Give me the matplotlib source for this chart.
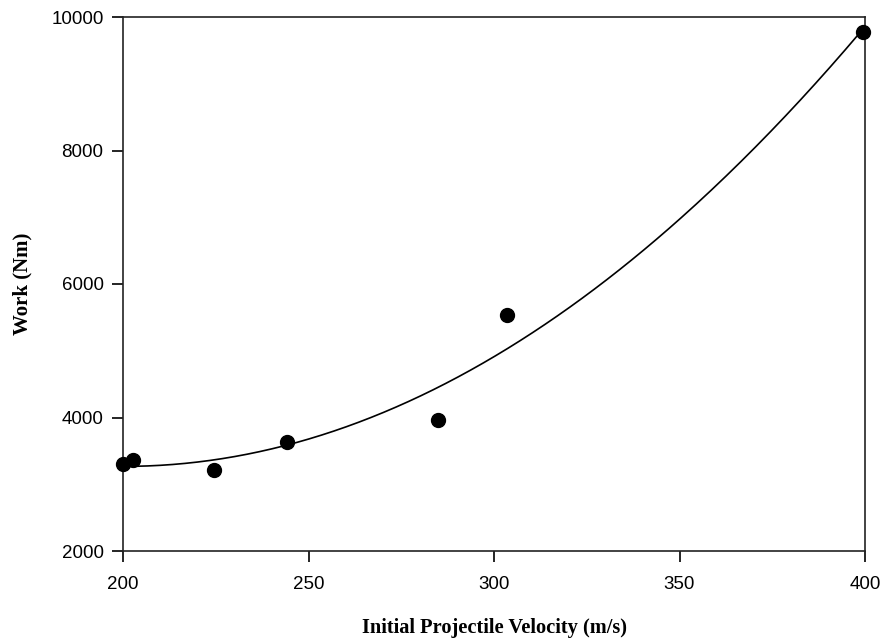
import numpy as np
import matplotlib.pyplot as plt

# initial velocity (m/s) and work (Nm)
velocity = [200.0, 202.7, 224.5, 244.2, 284.9, 303.5, 399.5]
work = [3310, 3360, 3210, 3640, 3965, 5530, 9775]

x_ticks = [200, 250, 300, 350, 400]
y_ticks = [2000, 4000, 6000, 8000, 10000]

# second order regression through the points
coef = np.polyfit(velocity, work, 2)
xs = np.linspace(200, 400, 300)
ys = np.polyval(coef, xs)

fig = plt.figure(figsize=(8.84, 6.39), dpi=100)
ax = fig.add_axes([123 / 884, 1 - 551 / 639, (865 - 123) / 884, (551 - 17) / 639])

ax.plot(xs, ys, color='black', linewidth=1.2, zorder=2)
ax.plot(velocity, work, 'o', color='black', markersize=10, zorder=3, clip_on=False)

ax.set_xlim(200, 400)
ax.set_ylim(2000, 10000)
ax.set_xticks(x_ticks)
ax.set_yticks(y_ticks)
ax.tick_params(direction='out', length=8, width=1.2, labelsize=13.5, colors='black')
ax.tick_params(axis='x', pad=10)
ax.tick_params(axis='y', pad=6)
for lab in ax.get_xticklabels() + ax.get_yticklabels():
    lab.set_family('Liberation Sans')
for sp in ax.spines.values():
    sp.set_linewidth(1.2)
    sp.set_color('#222222')

ax.set_xlabel('Initial Projectile Velocity (m/s)', family='Liberation Serif',
              fontweight='bold', fontsize=14.7, va='center')
ax.set_ylabel('Work (Nm)', family='Liberation Serif',
              fontweight='bold', fontsize=15, va='center')
ax.xaxis.set_label_coords(0.5, (551 - 628) / 534)
ax.yaxis.set_label_coords((22 - 123) / 742, 0.5)

fig.savefig('out.png', dpi=100)
